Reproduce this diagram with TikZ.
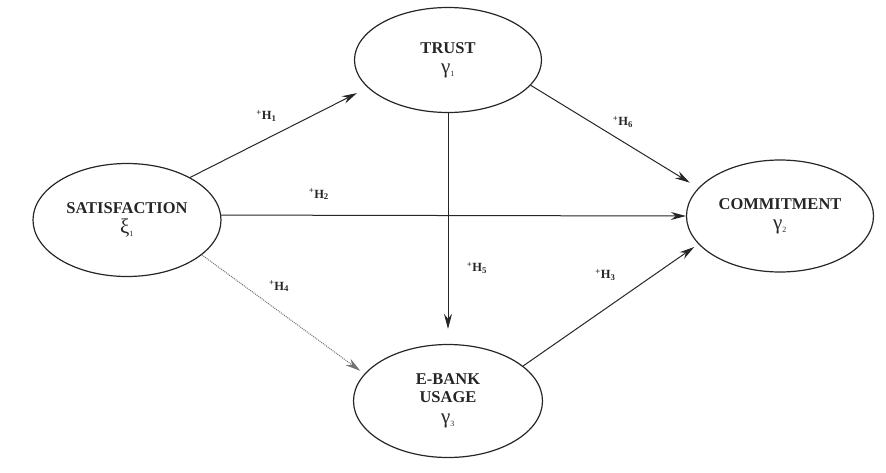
\documentclass[tikz,border=0pt]{standalone}
\usepackage{fontspec}
\setmainfont{Liberation Serif}
\usetikzlibrary{shapes.geometric,positioning,arrows.meta}
\newcommand{\hyp}[1]{\textsuperscript{+}H\textsubscript{#1}}
\newcommand{\lv}[2]{{\mdseries\fontsize{21}{21}\selectfont #1\textsubscript{\fontsize{8}{8}\selectfont #2}}}

\begin{document}
\begin{tikzpicture}[->,>={Stealth[length=15pt,width=8pt]},on grid,
	construct/.style={ellipse,draw=black!85,line width=1.2pt,minimum width=188pt,minimum height=113pt,inner sep=0pt,align=center,text=black!85,font=\fontsize{16.5}{18}\selectfont\bfseries},
	link/.style={draw=black!85,line width=1pt},
	hlabel/.style={font=\fontsize{12.5}{14}\selectfont\bfseries,text=black!85}]
		\node[construct] (sat) {SATISFACTION\\[2pt]\lv{ξ}{1}};
		\node[construct,minimum width=187pt,minimum height=105pt] (trust) [above right=160pt and 321pt of sat] {TRUST\\[2pt]\lv{γ}{1}};
		\node[construct,minimum width=187pt,minimum height=112pt] (com) [above right=4pt and 653pt of sat] {COMMITMENT\\[2pt]\lv{γ}{2}};
		\node[construct,minimum width=189pt] (ebank) [below=341pt of trust] {E-BANK\\USAGE\\[3pt]\lv{γ}{3}};

		\useasboundingbox ([shift={(-127pt,220pt)}]sat.center) rectangle ++(886pt,-472pt);

		\draw[link,shorten >=12pt] (sat.34) -- (trust.199) node[hlabel,pos=.43,yshift=23pt] {\hyp{1}};
		\draw[link] (sat.3) -- (com.west) node[hlabel,pos=.21,yshift=21pt] {\hyp{2}};
		\draw[link,shorten >=10pt] (trust.-17) -- (com.161) node[hlabel,pos=.55,yshift=20pt] {\hyp{6}};
		\draw[link,shorten >=15pt] (trust.south) -- (ebank.north) node[hlabel,pos=.67,xshift=29pt] {\hyp{5}};
		\draw[link,shorten >=5pt] (ebank.25) -- (com.199) node[hlabel,pos=.47,yshift=34pt] {\hyp{3}};
		\draw[link,draw=black!55,densely dotted,shorten >=5pt] (sat.-25) -- (ebank.162) node[hlabel,pos=.475,yshift=25pt] {\hyp{4}};
\end{tikzpicture}
\end{document}
